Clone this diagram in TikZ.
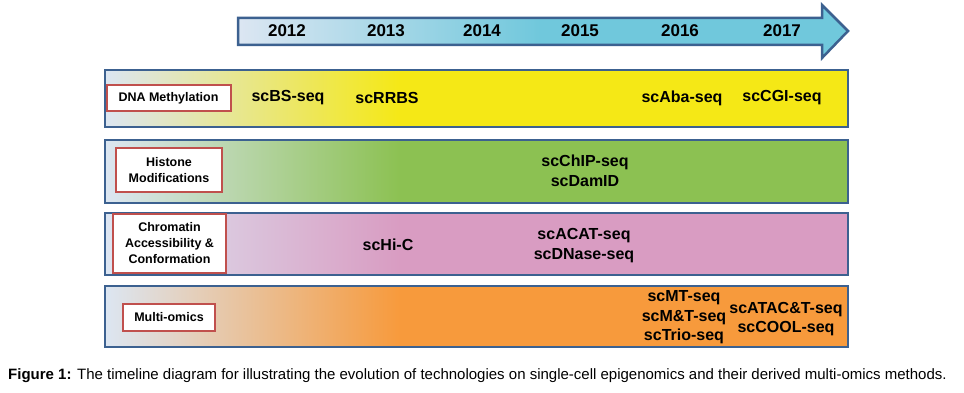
\documentclass[tikz,border=0pt]{standalone}
\usepackage{fontspec}
\setmainfont{Liberation Sans}
\usetikzlibrary{positioning}

\definecolor{frameblue}{HTML}{3C6190}
\definecolor{tagred}{HTML}{C0504D}
\definecolor{paleblue}{HTML}{DCE6F2}
\definecolor{arrowcyan}{HTML}{70C8DC}
\definecolor{methyellow}{HTML}{F5E816}
\definecolor{histgreen}{HTML}{8CC152}
\definecolor{chrompink}{HTML}{D99CC2}
\definecolor{omicorange}{HTML}{F79A3C}

\begin{document}
\begin{tikzpicture}[x=1pt,y=-1pt,
  band/.style={draw=frameblue,line width=2.5pt},
  tag/.style={draw=tagred,line width=2pt,fill=white,align=center,inner sep=0pt,
    font=\bfseries\fontsize{12.5}{16}\selectfont},
  method/.style={align=center,font=\bfseries\fontsize{16}{19.5}\selectfont},
  year/.style={font=\bfseries\fontsize{17}{19}\selectfont}]
\useasboundingbox (0,0) rectangle (964,393);

% time arrow
\fill[arrowcyan] (238,18) -- (822,18) -- (822,5) -- (848,31) -- (822,58) -- (822,45) -- (238,45) -- cycle;
\shade[left color=paleblue,right color=arrowcyan] (238,18) rectangle (540,45);
\draw[frameblue,line width=2.5pt,line join=miter] (238,18) -- (822,18) -- (822,5) -- (848,31) -- (822,58) -- (822,45) -- (238,45) -- cycle;
\foreach \yr/\x in {2012/287,2013/386,2014/482,2015/580,2016/680,2017/782}{
	\node[year] (y\yr) at (\x,31) {\yr};
	}

% DNA methylation
\fill[methyellow] (105,70) rectangle (848,127);
\shade[left color=paleblue,right color=methyellow] (105,70) rectangle (400,127);
\draw[band] (105,70) rectangle (848,127);
\node[tag,minimum width=124,minimum height=26] (dna) at (168.5,98) {DNA Methylation};
\node[method] (bs) at (288,98) {scBS-seq};
\node[method] (rrbs) at (387,98) {scRRBS};
\node[method] (aba) at (682,98) {scAba-seq};
\node[method] (cgi) at (782,98) {scCGI-seq};

% histone modifications
\fill[histgreen] (105,140) rectangle (848,203);
\shade[left color=paleblue,right color=histgreen] (105,140) rectangle (400,203);
\draw[band] (105,140) rectangle (848,203);
\node[tag,minimum width=106,minimum height=43] (hist) at (169,170) {Histone\\Modifications};
\node[method] (chip) at (585,171) {scChIP-seq\\scDamID};

% chromatin accessibility
\fill[chrompink] (105,213) rectangle (848,275);
\shade[left color=paleblue,right color=chrompink] (105,213) rectangle (400,275);
\draw[band] (105,213) rectangle (848,275);
\node[tag,minimum width=113,minimum height=59] (chrom) at (169.5,243.5) {Chromatin\\Accessibility \&\\Conformation};
\node[method] (hic) at (388,245) {scHi-C};
\node[method] (acat) at (584,245.5) {scACAT-seq\\scDNase-seq};

% multi-omics
\fill[omicorange] (105,286) rectangle (848,347);
\shade[left color=paleblue,right color=omicorange] (105,286) rectangle (400,347);
\draw[band] (105,286) rectangle (848,347);
\node[tag,minimum width=92,minimum height=27] (multi) at (169,317) {Multi-omics};
\node[method] (mt) at (684,317.5) {scMT-seq\\scM\&T-seq\\scTrio-seq};
\node[method] (atac) at (786,319) {scATAC\&T-seq\\scCOOL-seq};

% caption
\node[anchor=west,inner sep=0pt,font=\fontsize{15}{17}\selectfont] (cap) at (8,376)
  {\textbf{Figure 1:} The timeline diagram for illustrating the evolution of technologies on single-cell epigenomics and their derived multi-omics methods.};
\end{tikzpicture}
\end{document}
